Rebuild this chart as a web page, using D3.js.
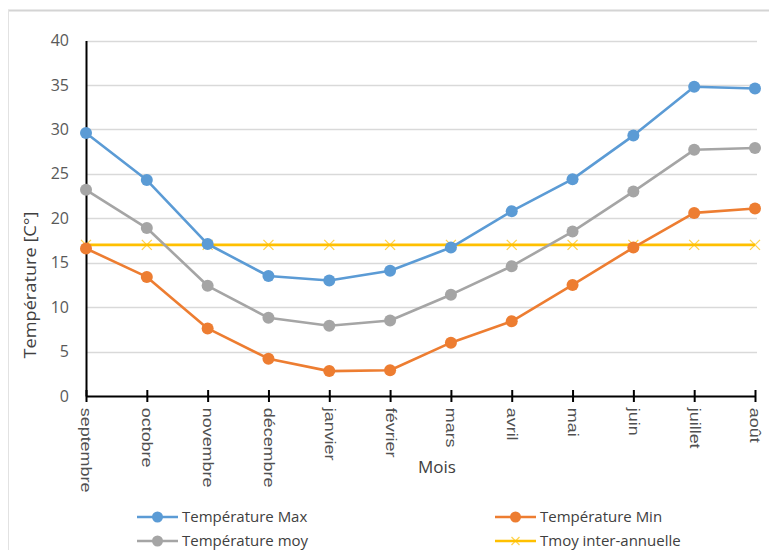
<!DOCTYPE html>
<html>
<head>
<meta charset="utf-8">
<script src="https://cdn.jsdelivr.net/npm/d3@7"></script>
<style>
  html, body { margin: 0; padding: 0; background: #fff; }
  svg { display: block; font-family: "Open Sans", "Segoe UI", sans-serif; }
</style>
</head>
<body>
<svg id="chart" width="769" height="550"></svg>
<script>
// Monthly temperatures, hydrological year (September to August)
const months = ["septembre", "octobre", "novembre", "décembre", "janvier", "février",
                "mars", "avril", "mai", "juin", "juillet", "août"];
const tMax = [29.6, 24.3, 17.1, 13.5, 13.0, 14.1, 16.7, 20.8, 24.4, 29.3, 34.8, 34.6];
const tMin = [16.6, 13.4, 7.6, 4.2, 2.8, 2.9, 6.0, 8.4, 12.5, 16.7, 20.6, 21.1];
const tMoy = [23.2, 18.9, 12.4, 8.8, 7.9, 8.5, 11.4, 14.6, 18.5, 23.0, 27.7, 27.9];
const tInter = [17, 17, 17, 17, 17, 17, 17, 17, 17, 17, 17, 17];
const yTicks = [0, 5, 10, 15, 20, 25, 30, 35, 40];

const series = [
  { name: "Température Max", values: tMax, color: "#5B9BD5", marker: "circle" },
  { name: "Température Min", values: tMin, color: "#ED7D31", marker: "circle" },
  { name: "Température moy", values: tMoy, color: "#A5A5A5", marker: "circle" },
  { name: "Tmoy inter-annuelle", values: tInter, color: "#FFC000", marker: "cross" }
];

const svg = d3.select("#chart");

// faint sheet border around the chart object
svg.append("line").attr("x1", 8).attr("x2", 769).attr("y1", 10.5).attr("y2", 10.5)
  .attr("stroke", "#d4d4d4").attr("stroke-width", 2);
svg.append("line").attr("x1", 8.5).attr("x2", 8.5).attr("y1", 10).attr("y2", 550)
  .attr("stroke", "#e2e2e2").attr("stroke-width", 1);

const x = d3.scalePoint().domain(months).range([86, 755]);
const y = d3.scaleLinear().domain([0, 40]).range([396, 40.5]);

// horizontal gridlines
svg.append("g").selectAll("line").data(yTicks.filter(d => d > 0)).join("line")
  .attr("x1", 86).attr("x2", 757)
  .attr("y1", d => Math.round(y(d)) + 0.5).attr("y2", d => Math.round(y(d)) + 0.5)
  .attr("stroke", "#d9d9d9").attr("stroke-width", 1.5);

// y axis
const yAxis = svg.append("g").attr("transform", "translate(86,0)")
  .call(d3.axisLeft(y).tickValues(yTicks).tickSize(0).tickPadding(17));
yAxis.select(".domain").attr("stroke", "#000").attr("stroke-width", 2);
yAxis.selectAll("text").attr("font-size", 16).attr("fill", "#595959")
  .attr("font-family", "Open Sans, sans-serif");

// x axis with crossing ticks
const xAxis = svg.append("g").attr("transform", "translate(0,396)")
  .call(d3.axisBottom(x).tickSizeInner(5).tickSizeOuter(0).tickPadding(0));
xAxis.select(".domain").attr("stroke", "#000").attr("stroke-width", 2.2);
xAxis.selectAll(".tick line").attr("stroke", "#000").attr("stroke-width", 2)
  .attr("y1", -6).attr("y2", 6);
xAxis.selectAll("text")
  .attr("font-size", 16).attr("fill", "#505050")
  .attr("transform", "rotate(90) scale(1.12,0.9)")
  .attr("x", 10.5).attr("y", 0).attr("dy", "0.35em")
  .style("text-anchor", "start");

// axis titles
svg.append("text").attr("transform", "translate(36,285) rotate(-90) scale(1.07,0.95)")
  .attr("text-anchor", "middle").attr("font-size", 17).attr("fill", "#404040")
  .text("Température [C°]");
svg.append("text").attr("x", 437).attr("y", 473)
  .attr("text-anchor", "middle").attr("font-size", 17).attr("fill", "#404040")
  .text("Mois");

const line = d3.line().x((d, i) => x(months[i])).y(d => y(d));

// draw order: inter-annual reference first, then the measured series
const drawOrder = [series[3], series[2], series[1], series[0]];

function drawMarker(g, kind, color, cx, cy, r) {
  if (kind === "circle") {
    g.append("circle").attr("cx", cx).attr("cy", cy).attr("r", r).attr("fill", color);
  } else {
    const s = r;
    g.append("path")
      .attr("d", `M${cx - s},${cy - s}L${cx + s},${cy + s}M${cx - s},${cy + s}L${cx + s},${cy - s}`)
      .attr("stroke", color).attr("stroke-width", 1.3).attr("fill", "none").attr("opacity", 0.7);
  }
}

drawOrder.forEach(s => {
  const g = svg.append("g");
  g.append("path").datum(s.values).attr("d", line)
    .attr("fill", "none").attr("stroke", s.color).attr("stroke-width", 2.6)
    .attr("stroke-linejoin", "round");
  s.values.forEach((v, i) => drawMarker(g, s.marker, s.color, x(months[i]), y(v), s.marker === "circle" ? 6 : 5));
});

// legend, two columns
const legendPos = [
  { s: series[0], lx: 137, ly: 517 },
  { s: series[1], lx: 495, ly: 517 },
  { s: series[2], lx: 137, ly: 541 },
  { s: series[3], lx: 495, ly: 541 }
];
legendPos.forEach(p => {
  const g = svg.append("g");
  g.append("line").attr("x1", p.lx).attr("x2", p.lx + 41).attr("y1", p.ly).attr("y2", p.ly)
    .attr("stroke", p.s.color).attr("stroke-width", 2.6);
  drawMarker(g, p.s.marker, p.s.color, p.lx + 20.5, p.ly, p.s.marker === "circle" ? 5.5 : 4);
  g.append("text").attr("x", p.lx + 45).attr("y", p.ly).attr("dy", "0.35em")
    .attr("font-size", 15).attr("fill", "#404040").text(p.s.name);
});
</script>
</body>
</html>
